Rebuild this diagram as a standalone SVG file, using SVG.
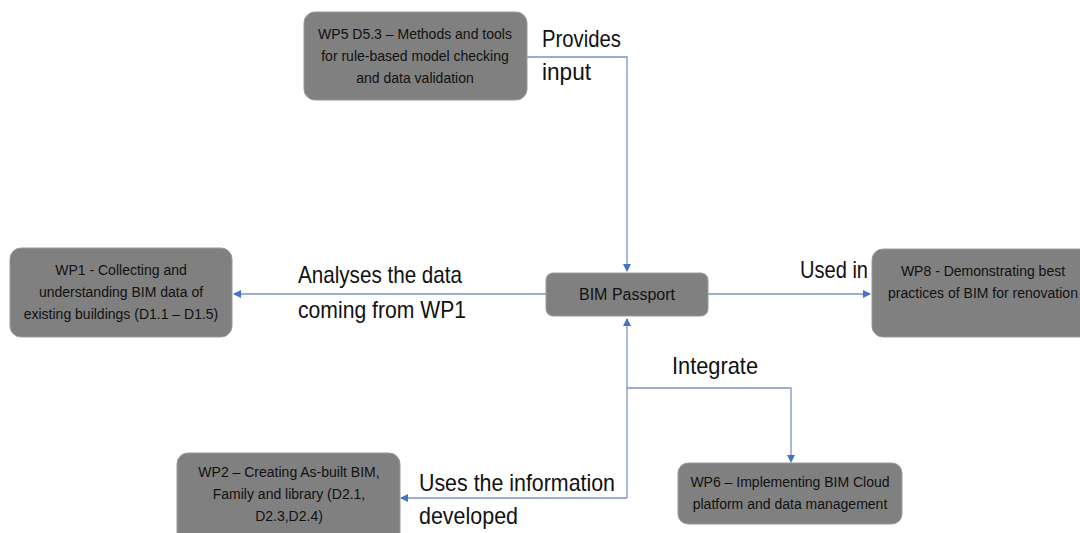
<svg xmlns="http://www.w3.org/2000/svg" width="1080" height="533" viewBox="0 0 1080 533">
<defs>
<style>
.box{fill:#808080;stroke:#9a9a9a;stroke-width:1}
.nt{font-family:"Liberation Sans",Arial,sans-serif;font-size:14px;fill:#111;text-anchor:middle}
.lbl{font-family:"Liberation Sans",Arial,sans-serif;font-size:24px;fill:#111}
.con{fill:none;stroke:#7b93c6;stroke-width:1.3}
</style>
<marker id="ah" markerWidth="8" markerHeight="8" refX="7" refY="4" orient="auto" markerUnits="userSpaceOnUse">
<path d="M0,0 L8,4 L0,8 Z" fill="#4472c4"/>
</marker>
</defs>
<rect width="1080" height="533" fill="#ffffff"/>
<g id="connectors">
<path class="con" d="M527,57 H627 V271" marker-end="url(#ah)"/>
<path class="con" d="M546,294 H234" marker-end="url(#ah)"/>
<path class="con" d="M708,294 H870" marker-end="url(#ah)"/>
<path class="con" d="M627,498 V319" marker-end="url(#ah)"/>
<path class="con" d="M627,498 H401" marker-end="url(#ah)"/>
<path class="con" d="M627,388 H791 V461"/>
<path d="M787,455 L791,463 L795,455 Z" fill="#4472c4"/>
<text class="lbl" x="542" y="47" textLength="79" lengthAdjust="spacingAndGlyphs">Provides</text>
<text class="lbl" x="542" y="80" textLength="49" lengthAdjust="spacingAndGlyphs">input</text>
<text class="lbl" x="298" y="283" textLength="164" lengthAdjust="spacingAndGlyphs">Analyses the data</text>
<text class="lbl" x="298" y="318" textLength="168" lengthAdjust="spacingAndGlyphs">coming from WP1</text>
<text class="lbl" x="800" y="278" textLength="68" lengthAdjust="spacingAndGlyphs">Used in</text>
<text class="lbl" x="672" y="374" textLength="86" lengthAdjust="spacingAndGlyphs">Integrate</text>
<text class="lbl" x="419" y="491" textLength="196" lengthAdjust="spacingAndGlyphs">Uses the information</text>
<text class="lbl" x="419" y="524" textLength="99" lengthAdjust="spacingAndGlyphs">developed</text>
</g>
<g id="wp5">
<rect class="box" x="304" y="12" width="223" height="88" rx="11"/>
<text class="nt" x="415" y="39">WP5 D5.3 – Methods and tools</text>
<text class="nt" x="415" y="61">for rule-based model checking</text>
<text class="nt" x="415" y="83">and data validation</text>
</g>
<g id="wp1">
<rect class="box" x="10" y="248" width="222" height="89" rx="11"/>
<text class="nt" x="121" y="275">WP1 - Collecting and</text>
<text class="nt" x="121" y="297">understanding  BIM data of</text>
<text class="nt" x="121" y="319">existing buildings (D1.1 – D1.5)</text>
</g>
<g id="bim-passport">
<rect class="box" x="546" y="273" width="162" height="43" rx="7"/>
<text class="nt" x="627" y="300" style="font-size:16px">BIM Passport</text>
</g>
<g id="wp8">
<rect class="box" x="872" y="249" width="220" height="88" rx="11"/>
<text class="nt" x="983" y="276">WP8 - Demonstrating best</text>
<text class="nt" x="983" y="298">practices of BIM for renovation</text>
</g>
<g id="wp2">
<rect class="box" x="177" y="453" width="223" height="100" rx="11"/>
<text class="nt" x="289" y="477">WP2 – Creating As-built BIM,</text>
<text class="nt" x="289" y="499">Family and library (D2.1,</text>
<text class="nt" x="289" y="521">D2.3,D2.4)</text>
</g>
<g id="wp6">
<rect class="box" x="678" y="463" width="224" height="61" rx="10"/>
<text class="nt" x="790" y="487">WP6 – Implementing BIM Cloud</text>
<text class="nt" x="790" y="509">platform and data management</text>
</g>
</svg>
